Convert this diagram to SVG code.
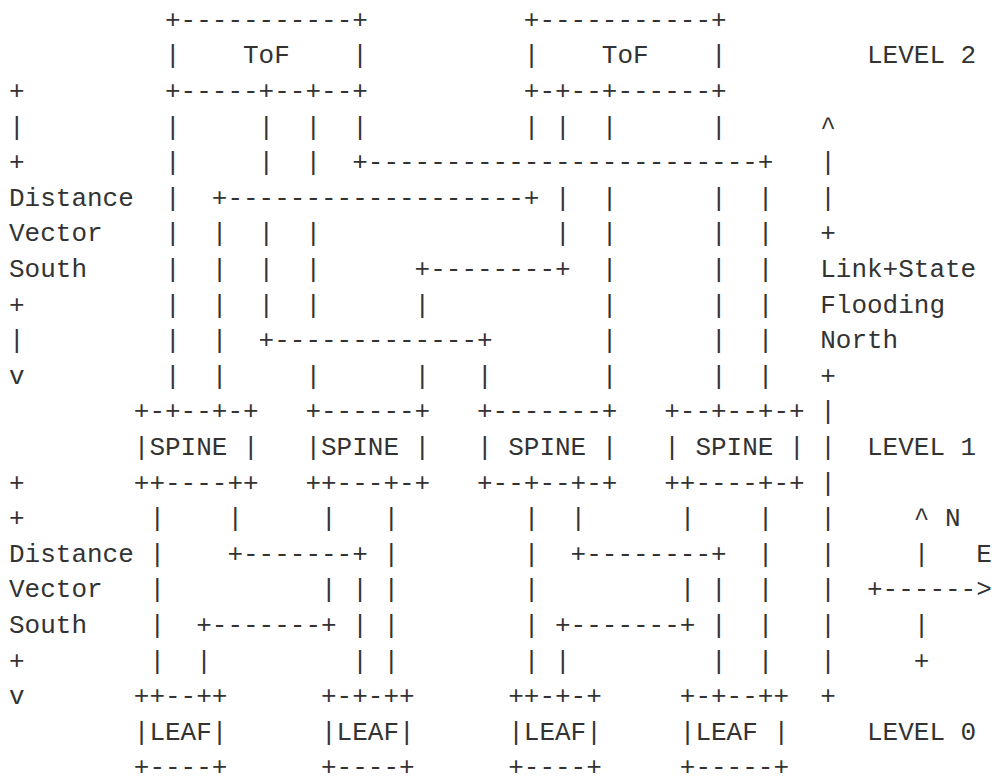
<svg xmlns="http://www.w3.org/2000/svg" width="992" height="779" viewBox="0 0 992 779" xml:space="preserve">
<style>
text { font-family: "Liberation Mono", "DejaVu Sans Mono", monospace; font-size: 26px; fill: #333; white-space: pre; }
</style>
<rect width="992" height="779" fill="#fff"/>
<g transform="translate(0,-1.5)">
<g id="tof1">
<text x="165" y="29.3">+-----------+</text>
<text x="165" y="64.9">|    ToF    |</text>
<text x="165" y="100.5">+-----+--+--+</text>
</g>
<g id="tof2">
<text x="523.8" y="29.3">+-----------+</text>
<text x="523.8" y="64.9">|    ToF    |</text>
<text x="523.8" y="100.5">+-+--+------+</text>
</g>
<g id="spine1">
<text x="133.8" y="420.9">+-+--+-+</text>
<text x="133.8" y="456.5">|SPINE |</text>
<text x="133.8" y="492.1">++----++</text>
</g>
<g id="spine2">
<text x="305.4" y="420.9">+------+</text>
<text x="305.4" y="456.5">|SPINE |</text>
<text x="305.4" y="492.1">++---+-+</text>
</g>
<g id="spine3">
<text x="477" y="420.9">+-------+</text>
<text x="477" y="456.5">| SPINE |</text>
<text x="477" y="492.1">+--+--+-+</text>
</g>
<g id="spine4">
<text x="664.2" y="420.9">+--+--+-+</text>
<text x="664.2" y="456.5">| SPINE |</text>
<text x="664.2" y="492.1">++----+-+</text>
</g>
<g id="leaf1">
<text x="133.8" y="705.7">++--++</text>
<text x="133.8" y="741.3">|LEAF|</text>
<text x="133.8" y="776.9">+----+</text>
</g>
<g id="leaf2">
<text x="321" y="705.7">+-+-++</text>
<text x="321" y="741.3">|LEAF|</text>
<text x="321" y="776.9">+----+</text>
</g>
<g id="leaf3">
<text x="508.2" y="705.7">++-+-+</text>
<text x="508.2" y="741.3">|LEAF|</text>
<text x="508.2" y="776.9">+----+</text>
</g>
<g id="leaf4">
<text x="679.8" y="705.7">+-+--++</text>
<text x="679.8" y="741.3">|LEAF |</text>
<text x="679.8" y="776.9">+-----+</text>
</g>
<g id="connectors">
<text x="165 258.6 305.4 352.2 523.8 555 601.8 711" y="136.1">||||||||</text>
<text x="165 258.6 305.4" y="171.7">|||</text>
<text x="352.2" y="171.7">+-------------------------+</text>
<text x="165" y="207.3">|</text>
<text x="211.8" y="207.3">+-------------------+</text>
<text x="555 601.8 711 757.8" y="207.3">||||</text>
<text x="165 211.8 258.6 305.4 555 601.8 711 757.8" y="242.9">||||||||</text>
<text x="165 211.8 258.6 305.4" y="278.5">||||</text>
<text x="414.6" y="278.5">+--------+</text>
<text x="601.8 711 757.8" y="278.5">|||</text>
<text x="165 211.8 258.6 305.4 414.6 601.8 711 757.8" y="314.1">||||||||</text>
<text x="165 211.8" y="349.7">||</text>
<text x="258.6" y="349.7">+-------------+</text>
<text x="601.8 711 757.8" y="349.7">|||</text>
<text x="165 211.8 305.4 414.6 477 601.8 711 757.8" y="385.3">||||||||</text>
<text x="149.4 227.4 321 383.4 523.8 570.6 679.8 757.8" y="527.7">||||||||</text>
<text x="149.4" y="563.3">|</text>
<text x="227.4" y="563.3">+-------+</text>
<text x="383.4 523.8" y="563.3">||</text>
<text x="570.6" y="563.3">+--------+</text>
<text x="757.8" y="563.3">|</text>
<text x="149.4 321 352.2 383.4 523.8 679.8 711 757.8" y="598.9">||||||||</text>
<text x="149.4" y="634.5">|</text>
<text x="196.2" y="634.5">+-------+</text>
<text x="352.2 383.4 523.8" y="634.5">|||</text>
<text x="555" y="634.5">+-------+</text>
<text x="711 757.8" y="634.5">||</text>
<text x="149.4 196.2 352.2 383.4 523.8 555 711 757.8" y="670.1">||||||||</text>
</g>
<g id="legend-south">
<text x="9" y="100.5">+</text>
<text x="9" y="136.1">|</text>
<text x="9" y="171.7">+</text>
<text x="9" y="207.3">Distance</text>
<text x="9" y="242.9">Vector</text>
<text x="9" y="278.5">South</text>
<text x="9" y="314.1">+</text>
<text x="9" y="349.7">|</text>
<text x="9" y="385.3">v</text>
<text x="9" y="492.1">+</text>
<text x="9" y="527.7">+</text>
<text x="9" y="563.3">Distance</text>
<text x="9" y="598.9">Vector</text>
<text x="9" y="634.5">South</text>
<text x="9" y="670.1">+</text>
<text x="9" y="705.7">v</text>
</g>
<g id="legend-north">
<text x="820.2" y="136.1">^</text>
<text x="820.2" y="171.7">|</text>
<text x="820.2" y="207.3">|</text>
<text x="820.2" y="242.9">+</text>
<text x="820.2" y="278.5">Link+State</text>
<text x="820.2" y="314.1">Flooding</text>
<text x="820.2" y="349.7">North</text>
<text x="820.2" y="385.3">+</text>
<text x="820.2" y="420.9">|</text>
<text x="820.2" y="456.5">|</text>
<text x="820.2" y="492.1">|</text>
<text x="820.2" y="527.7">|</text>
<text x="820.2" y="563.3">|</text>
<text x="820.2" y="598.9">|</text>
<text x="820.2" y="634.5">|</text>
<text x="820.2" y="670.1">|</text>
<text x="820.2" y="705.7">+</text>
</g>
<g id="levels">
<text x="867" y="64.9">LEVEL 2</text>
<text x="867" y="456.5">LEVEL 1</text>
<text x="867" y="741.3">LEVEL 0</text>
</g>
<g id="compass">
<text x="913.8" y="527.7">^</text>
<text x="945" y="527.7">N</text>
<text x="913.8" y="563.3">|</text>
<text x="976.2" y="563.3">E</text>
<text x="867" y="598.9">+------&gt;</text>
<text x="913.8" y="634.5">|</text>
<text x="913.8" y="670.1">+</text>
</g>
</g>
</svg>
